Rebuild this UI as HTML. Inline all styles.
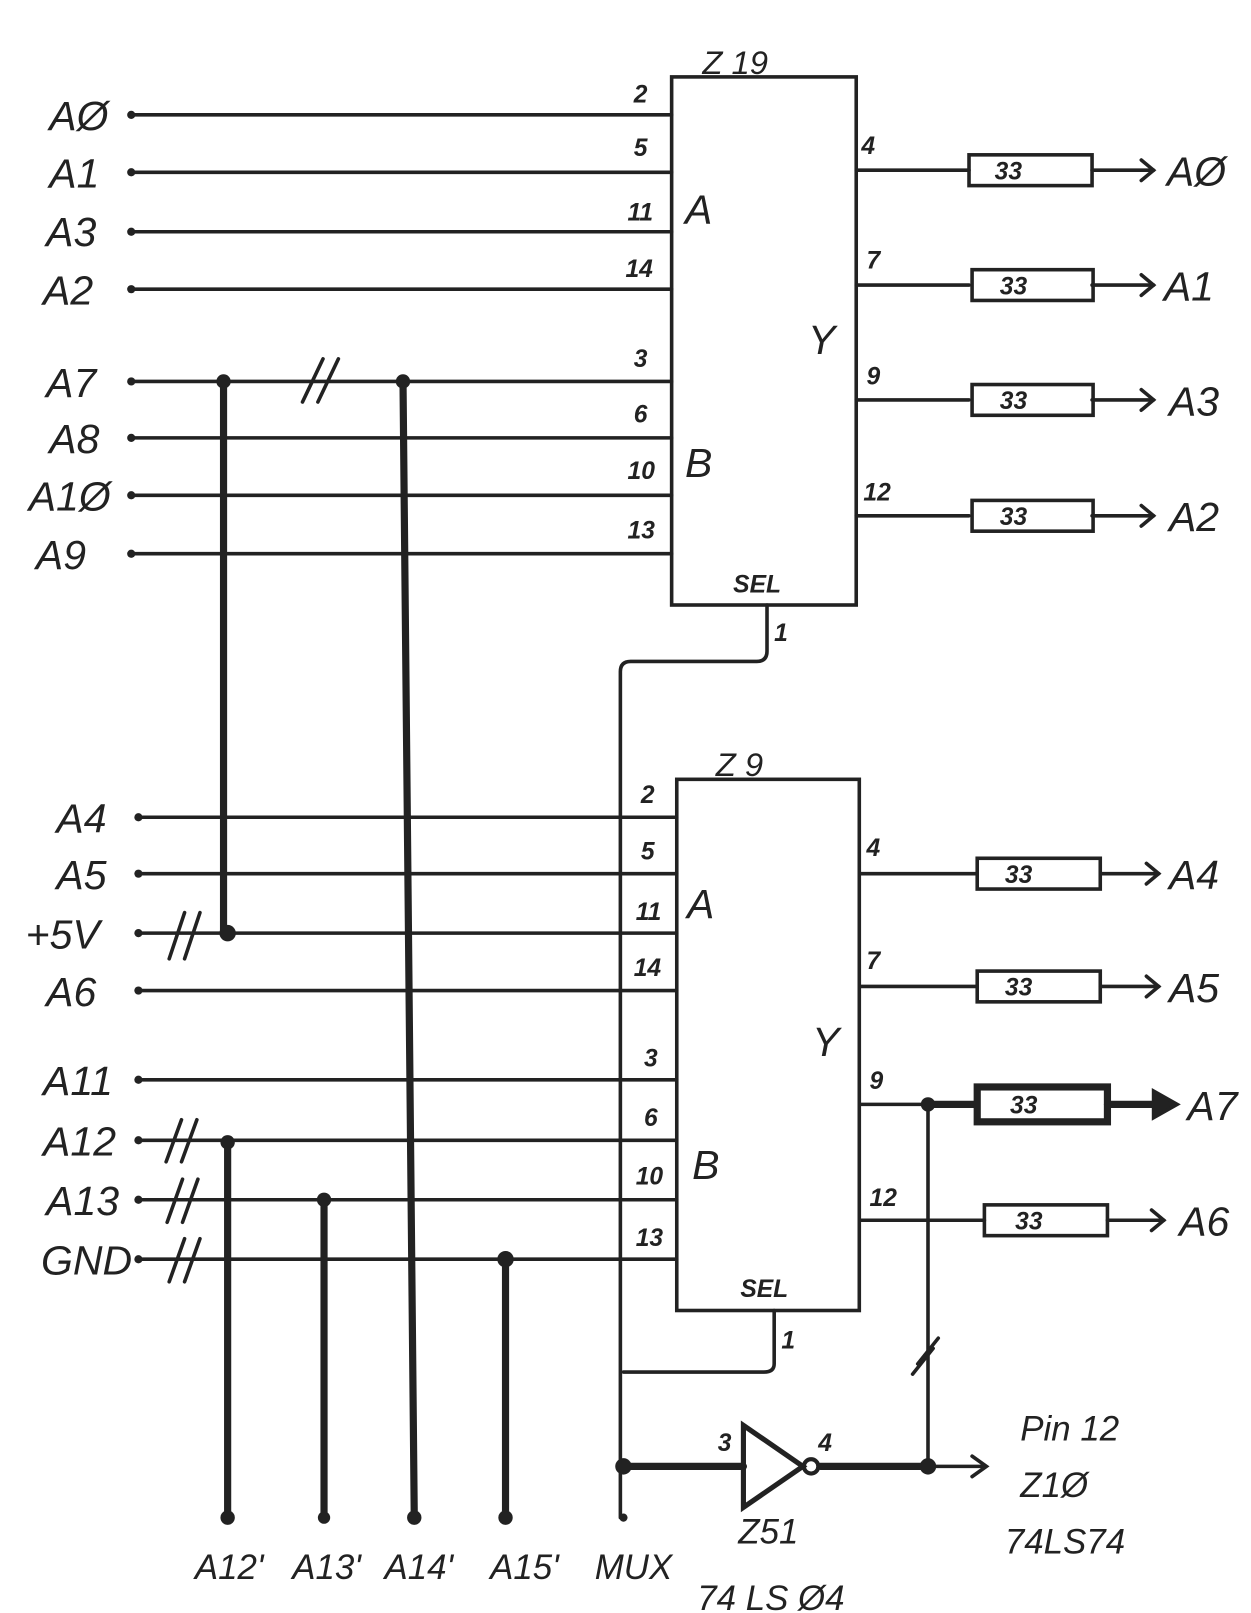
<!DOCTYPE html>
<html><head><meta charset="utf-8"><style>
html,body{margin:0;padding:0;background:#fff;}
svg{display:block;}
text{font-family:"Liberation Sans",sans-serif;font-style:italic;fill:#222;}
</style></head><body>
<svg width="1251" height="1613" viewBox="0 0 1220 1573" preserveAspectRatio="none" xmlns="http://www.w3.org/2000/svg">
<g stroke="#222" stroke-width="3.5" fill="none" stroke-linecap="round">
<rect x="655" y="75" width="180" height="515"/>
<rect x="660" y="760" width="178" height="518"/>
<path d="M128 112H655M128 168H655M128 226H655M128 282H655M128 372H655M128 427H655M128 483H655M128 540H655"/>
<path d="M135 797H660M135 852H660M135 910H660M135 966H660M135 1053H660M135 1112H660M135 1170H660M135 1228H660"/>
<path d="M835 166H945M1065 166H1125M835 278H945M1065 278H1125M835 390H945M1065 390H1125M835 503H945M1065 503H1125"/>
<rect x="945" y="151" width="120" height="30"/><rect x="948" y="263" width="118" height="30"/><rect x="948" y="375" width="118" height="30"/><rect x="948" y="488" width="118" height="30"/>
<path d="M1113 156L1125 166L1113 176M1113 268L1125 278L1113 288M1113 380L1125 390L1113 400M1113 493L1125 503L1113 513"/>
<path d="M838 852H953M1073 852H1130M838 962H953M1073 962H1130M838 1190H960M1080 1190H1135M838 1077H905"/>
<rect x="953" y="837" width="120" height="30"/><rect x="953" y="947" width="120" height="30"/><rect x="960" y="1175" width="120" height="30"/>
<path d="M1118 842L1130 852L1118 862M1118 952L1130 962L1118 972M1123 1180L1135 1190L1123 1200"/>
<g stroke-width="7"><path d="M905 1077H950M1080 1077H1130"/><rect x="953" y="1060" width="127" height="34"/></g>
<path d="M1125 1064L1148 1077L1125 1090Z" fill="#222"/>
<path d="M748 590V635Q748 645 738 645H615Q605 645 605 655V1480"/>
<path d="M755 1278V1330Q755 1338 745 1338H608"/>
<path d="M905 1077V1430"/>
<path d="M895 1330L915 1305M890 1340L910 1315"/>
<path d="M608 1430H725M800 1430H905" stroke-width="7"/>
<path d="M725 1390L783 1430L725 1470Z" stroke-width="5"/>
<circle cx="791" cy="1430" r="7" stroke-width="4"/>
<path d="M905 1430H960M948 1420L962 1430L948 1440"/>
<path d="M218 370V910M393 370L404 1480M222 1112V1480M316 1170V1480M493 1225V1480" stroke-width="7"/>
<path d="M295 392L315 350M310 392L330 350M165 935L180 890M180 935L195 890M162 1133L177 1092M177 1133L192 1092M163 1192L178 1150M178 1192L193 1150M165 1250L180 1208M180 1250L195 1208"/>
</g>
<g fill="#222">
<circle cx="218" cy="372" r="7"/><circle cx="393" cy="372" r="7"/><circle cx="222" cy="910" r="8"/>
<circle cx="222" cy="1114" r="7"/><circle cx="316" cy="1170" r="7"/><circle cx="493" cy="1228" r="8"/>
<circle cx="222" cy="1480" r="7"/><circle cx="316" cy="1480" r="6"/><circle cx="404" cy="1480" r="7"/><circle cx="493" cy="1480" r="7"/><circle cx="608" cy="1480" r="4"/>
<circle cx="608" cy="1430" r="8"/><circle cx="905" cy="1430" r="8"/><circle cx="905" cy="1077" r="7"/>
<circle cx="128" cy="112" r="4"/><circle cx="128" cy="168" r="4"/><circle cx="128" cy="226" r="4"/><circle cx="128" cy="282" r="4"/><circle cx="128" cy="372" r="4"/><circle cx="128" cy="427" r="4"/><circle cx="128" cy="483" r="4"/><circle cx="128" cy="540" r="4"/>
<circle cx="135" cy="797" r="4"/><circle cx="135" cy="852" r="4"/><circle cx="135" cy="910" r="4"/><circle cx="135" cy="966" r="4"/><circle cx="135" cy="1053" r="4"/><circle cx="135" cy="1112" r="4"/><circle cx="135" cy="1170" r="4"/><circle cx="135" cy="1228" r="4"/>
</g>
<g font-size="40">
<text x="48" y="127">AØ</text><text x="48" y="183">A1</text><text x="45" y="240">A3</text><text x="42" y="297">A2</text>
<text x="45" y="387">A7</text><text x="48" y="442">A8</text><text x="28" y="498">A1Ø</text><text x="35" y="555">A9</text>
<text x="55" y="812">A4</text><text x="55" y="867">A5</text><text x="25" y="925">+5V</text><text x="45" y="981">A6</text>
<text x="42" y="1068">A11</text><text x="42" y="1127">A12</text><text x="45" y="1185">A13</text><text x="40" y="1243">GND</text>
<text x="1138" y="181">AØ</text><text x="1135" y="293">A1</text><text x="1140" y="405">A3</text><text x="1140" y="518">A2</text>
<text x="1140" y="867">A4</text><text x="1140" y="977">A5</text><text x="1158" y="1092">A7</text><text x="1150" y="1205">A6</text>
<text x="668" y="218">A</text><text x="668" y="465">B</text><text x="788" y="345">Y</text>
<text x="670" y="895">A</text><text x="675" y="1150">B</text><text x="792" y="1030">Y</text>
<text x="685" y="72" font-size="32">Z 19</text><text x="698" y="757" font-size="32">Z 9</text>
</g>
<g font-size="24" font-weight="bold">
<text x="618" y="100">2</text><text x="618" y="152">5</text><text x="612" y="215">11</text><text x="610" y="270">14</text>
<text x="618" y="358">3</text><text x="618" y="412">6</text><text x="612" y="467">10</text><text x="612" y="525">13</text>
<text x="625" y="783">2</text><text x="625" y="838">5</text><text x="620" y="897">11</text><text x="618" y="952">14</text>
<text x="628" y="1040">3</text><text x="628" y="1098">6</text><text x="620" y="1155">10</text><text x="620" y="1215">13</text>
<text x="840" y="150">4</text><text x="845" y="262">7</text><text x="845" y="375">9</text><text x="842" y="488">12</text>
<text x="845" y="835">4</text><text x="845" y="945">7</text><text x="848" y="1062">9</text><text x="848" y="1176">12</text>
<text x="715" y="578">SEL</text><text x="722" y="1265">SEL</text><text x="755" y="625">1</text><text x="762" y="1315">1</text>
<text x="970" y="175">33</text><text x="975" y="287">33</text><text x="975" y="399">33</text><text x="975" y="512">33</text>
<text x="980" y="861">33</text><text x="980" y="971">33</text><text x="985" y="1086">33</text><text x="990" y="1199">33</text>
<text x="700" y="1415">3</text><text x="798" y="1415">4</text>
</g>
<g font-size="34">
<text x="190" y="1540">A12'</text><text x="285" y="1540">A13'</text><text x="375" y="1540">A14'</text><text x="478" y="1540">A15'</text><text x="580" y="1540">MUX</text>
<text x="720" y="1505">Z51</text><text x="680" y="1570">74 LS Ø4</text>
<text x="995" y="1405">Pin 12</text><text x="995" y="1460">Z1Ø</text><text x="980" y="1515">74LS74</text>
</g>
</svg>
</body></html>
